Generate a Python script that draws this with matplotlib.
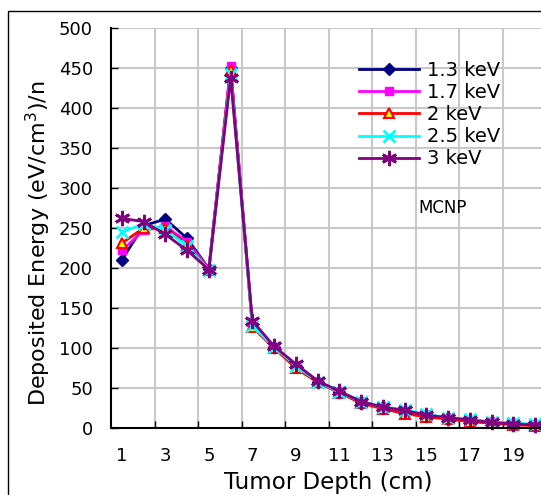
"""
Deposited energy vs tumor depth for several keV values (MCNP)
"""
import matplotlib
matplotlib.use('Agg')
import matplotlib.pyplot as plt
from matplotlib.patches import Rectangle

depth = list(range(1, 21))

e_13 = [210, 253, 261, 237, 199, 450, 130, 101, 78, 58,
        45, 33, 26, 21, 16, 13, 9, 7, 5, 4]
e_17 = [222, 247, 252, 233, 199, 452, 128, 100, 77, 58,
        45, 33, 26, 20, 16, 13, 9, 7, 5, 4]
e_2 = [231, 250, 250, 229, 198, 447, 126, 100, 75, 57,
       44, 31, 24, 18, 14, 11, 8, 6, 4, 3]
e_25 = [245, 255, 248, 227, 198, 442, 128, 101, 78, 58,
        45, 33, 26, 23, 17, 13, 11, 8, 6, 5]
e_3 = [262, 258, 242, 222, 198, 438, 134, 102, 80, 59,
       46, 33, 26, 22, 16, 13, 10, 7, 5, 4]

labels = ['1.3 keV', '1.7 keV', '2 keV', '2.5 keV', '3 keV']
x_ticklabels = [str(v) for v in range(1, 20, 2)]

plt.rcParams['font.family'] = 'DejaVu Sans'

fig = plt.figure(figsize=(5.41, 4.95), dpi=100)
ax = fig.add_axes([111 / 541, 67 / 495, 435 / 541, 400 / 495])

styles = [
    dict(color='#000080', marker='D', ms=6, mfc='#000080', mec='#000080'),
    dict(color='#FF00FF', marker='s', ms=6, mfc='#FF00FF', mec='#FF00FF'),
    dict(color='#FF0000', marker='^', ms=7, mfc='#FFFF00', mec='#FF0000', mew=1.5),
    dict(color='#00FFFF', marker='x', ms=9, mew=2, mec='#00FFFF'),
    dict(color='#800080', marker=(6, 2, 0), ms=11, mew=2, mec='#800080'),
]
for vals, lab, st in zip([e_13, e_17, e_2, e_25, e_3], labels, styles):
    ax.plot(depth, vals, lw=2, label=lab, clip_on=False, **st)

ax.set_xlim(0.5, 20.5)
ax.set_ylim(0, 500)
ax.set_yticks(range(0, 501, 50))
ax.set_xticks(range(1, 20, 2))
ax.set_xticklabels(x_ticklabels)
ax.set_xticks([v + 0.5 for v in range(2, 21, 2)], minor=True)

ax.grid(False)
ax.yaxis.grid(True, color='#c8c8c8', lw=1.5)
ax.xaxis.grid(True, which='minor', color='#c8c8c8', lw=1.5)
ax.set_axisbelow(True)

ax.tick_params(axis='x', which='major', length=0, pad=14, labelsize=13)
ax.tick_params(axis='x', which='minor', direction='in', length=5, width=1)
ax.tick_params(axis='y', direction='in', length=5, width=1, pad=13, labelsize=13)

for side in ['top', 'right']:
    ax.spines[side].set_visible(False)
for side in ['left', 'bottom']:
    ax.spines[side].set_linewidth(1.5)

ax.set_xlabel('Tumor Depth (cm)', fontsize=16.5)
ax.set_ylabel('Deposited Energy (eV/cm$^3$)/n', fontsize=16)
ax.xaxis.set_label_coords(0.499, -0.1075)
ax.yaxis.set_label_coords(-0.133, 0.461)

ax.text(443 / 541, 1 - 208 / 495, 'MCNP', transform=fig.transFigure,
        ha='center', va='center', fontsize=12)

ax.legend(loc='upper left', bbox_to_anchor=(359 / 541, 1 - 61 / 495),
          bbox_transform=fig.transFigure, frameon=False, fontsize=14,
          handlelength=3.1, handletextpad=0.4, labelspacing=0.16,
          borderpad=0, borderaxespad=0)

fig.add_artist(Rectangle((8 / 541, -0.1), 1.2, 1.1 - 11 / 495,
                         transform=fig.transFigure, fill=False,
                         ec='black', lw=1))

fig.savefig('out.png', dpi=100)
